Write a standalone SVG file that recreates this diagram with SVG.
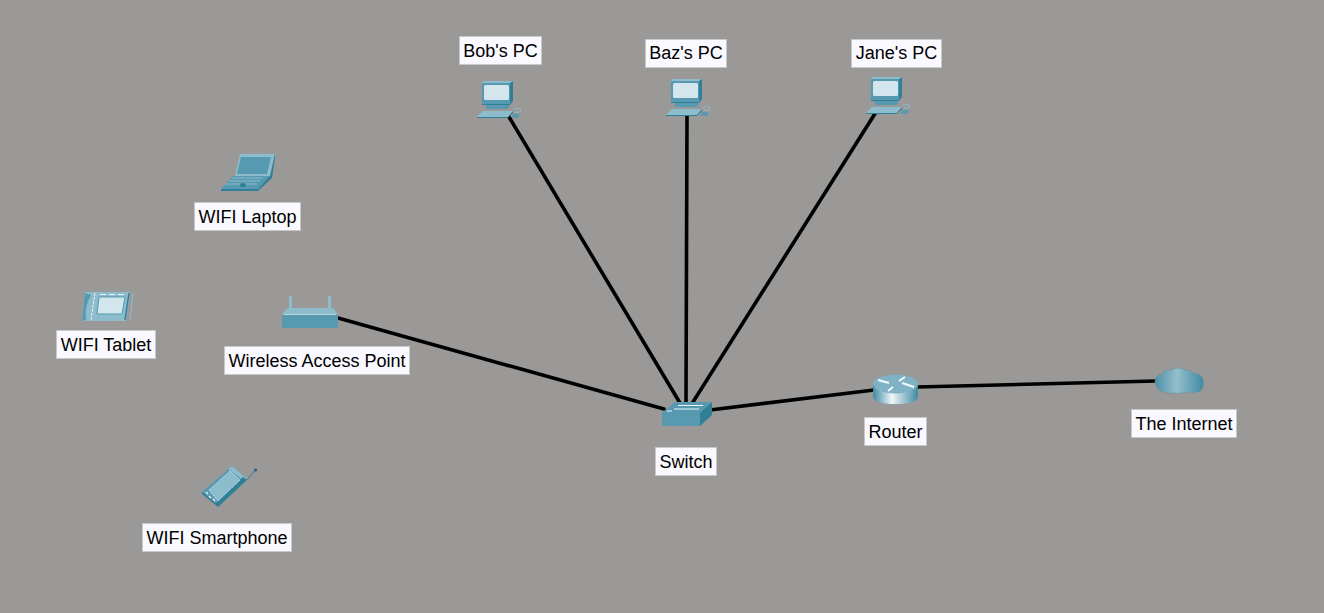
<svg xmlns="http://www.w3.org/2000/svg" width="1324" height="613" viewBox="0 0 1324 613">
<style>
.lbl rect{fill:#f9f9ff;stroke:#c8c8c8;stroke-width:1}
.lbl text{font-family:"Liberation Sans",Arial,sans-serif;font-size:18px;fill:#000;text-anchor:middle}
.cable{stroke:#000;stroke-width:3.6;fill:none;stroke-linecap:round}
.d{fill:#2f7f97}.m{fill:#5699b1}.l{fill:#8dbccc}.s{fill:#d3e6ee}
</style>
<defs>
<linearGradient id="rt" x1="0" x2="1" y1="0" y2="0"><stop offset="0" stop-color="#3f8aa2"/><stop offset=".42" stop-color="#eef6f8"/><stop offset="1" stop-color="#3f8aa2"/></linearGradient>
<linearGradient id="cl" x1="0" x2="1" y1="0" y2="0"><stop offset="0" stop-color="#4d90a8"/><stop offset=".45" stop-color="#94bfcd"/><stop offset="1" stop-color="#3f8aa2"/></linearGradient>
<g id="pc">
<path class="d" d="M6 0H36V20L33 24H5Z"/>
<path class="l" d="M6 0H36L33 2H5Z"/>
<path class="m" d="M5 2H33V23H5Z"/>
<rect class="s" x="7" y="4" width="25" height="15" rx="1.500"/>
<path class="m" d="M9 24H32V27L30 28H9Z"/>
<path class="l" d="M6 30H36L31 36H0Z"/>
<path class="d" d="M31 36L36 30V32L31 37H0V36Z"/>
<path d="M36 29Q43 25 44 30Q43 32 38 31" fill="none" stroke="#8dbccc" stroke-width="1"/>
<path class="m" d="M36 33H43L41 37H35Z"/>
</g>
</defs>
<rect width="1324" height="613" fill="#9b9997"/>
<g id="connectors">
<line class="cable" x1="509" y1="117" x2="680" y2="403"/>
<line class="cable" x1="687" y1="116" x2="686" y2="402"/>
<line class="cable" x1="876" y1="112" x2="693" y2="402"/>
<line class="cable" x1="338" y1="318" x2="664" y2="409"/>
<line class="cable" x1="710" y1="410" x2="874" y2="390"/>
<line class="cable" x1="917" y1="387" x2="1156" y2="381"/>
</g>
<g id="bob-pc"><use href="#pc" x="477" y="81"/><g class="lbl"><rect x="459.500" y="36.500" width="82" height="28"/><text x="500.500" y="57">Bob's PC</text></g></g>
<g id="baz-pc"><use href="#pc" x="666" y="79"/><g class="lbl"><rect x="645.500" y="39.500" width="81" height="28"/><text x="686" y="59">Baz's PC</text></g></g>
<g id="jane-pc"><use href="#pc" x="866" y="77"/><g class="lbl"><rect x="851.500" y="39.500" width="90" height="28"/><text x="896.500" y="59">Jane's PC</text></g></g>
<g id="wifi-laptop">
<path class="l" d="M240 154H275L270 176H235Z"/>
<path class="m" d="M241 157H271L267 174H237Z"/>
<path class="m" d="M233 176H270L258 189H221Z"/>
<path d="M232 178H263M229 181H260M226 184H257" stroke="#8dbccc" stroke-width="1"/>
<ellipse cx="243" cy="185" rx="3" ry="2" fill="#2f7f97"/>
<path class="d" d="M221 189H258V191H221ZM258 189L270 176L275 154V158L272 178L258 191Z"/>
<g class="lbl"><rect x="194.500" y="202.500" width="106" height="28"/><text x="247.500" y="223">WIFI Laptop</text></g>
</g>
<g id="wifi-tablet">
<path class="l" d="M85 292H130L126 321H82Z"/>
<path class="m" d="M91 295Q84 307 86 320L82 321L85 293Z"/>
<path class="s" d="M99 297H125L122 314H97Z" stroke="#5699b1"/>
<path d="M95 293L91 320" stroke="#e8f4f8" stroke-width="1" stroke-dasharray="3 1"/>
<path d="M100 294.500H126" stroke="#e8f4f8" stroke-width="1" stroke-dasharray="6 3"/>
<path d="M129 293L125 320" stroke="#2f7f97" stroke-width="1.500"/>
<path d="M133 293L130 319" stroke="#8dbccc" stroke-width="1"/>
<g class="lbl"><rect x="56.500" y="330.500" width="99" height="28"/><text x="106" y="351">WIFI Tablet</text></g>
</g>
<g id="wireless-access-point">
<path class="l" d="M289 296H292V308H289ZM328 296H331V308H328Z"/>
<path class="l" d="M288 308H333L338 314H282Z"/>
<rect class="m" x="282" y="315" width="56" height="13"/>
<path d="M284 314.500H336" stroke="#b8d6e0" stroke-width="1"/>
<g class="lbl"><rect x="224.500" y="346.500" width="185" height="28"/><text x="317" y="367">Wireless Access Point</text></g>
</g>
<g id="wifi-smartphone">
<path class="m" d="M202 492L232 466L243 476L217 503Z"/>
<path class="l" d="M228 469L232 466L247 479L243 480Z"/>
<path class="d" d="M218 507L247 480L243 477L216 503L202 492V494Z"/>
<path class="l" d="M209 490L230 471L240 480L218 501Z" stroke="#d3e6ee" stroke-width=".8" stroke-dasharray="2 1"/>
<path d="M206 492L208 494M209 496L211 498M213 499L215 501" stroke="#eef6f8" stroke-width="1.200"/>
<path d="M247 480L255 470" stroke="#2f7f97" stroke-width="1"/>
<circle cx="255.500" cy="470" r="1.500" fill="#1f5f77"/>
<g class="lbl"><rect x="142.500" y="523.500" width="149" height="28"/><text x="217" y="544">WIFI Smartphone</text></g>
</g>
<g id="switch">
<path class="m" d="M662 413L675 402H712L700 413Z" fill="#6fa8bb"/>
<path class="d" d="M700 413L712 402V415L700 426Z"/>
<rect class="m" x="662" y="413" width="38" height="13"/>
<path d="M678 405.500H703M674 409H699M667 411H672" stroke="#eef6f8" stroke-width="1.200"/>
<g class="lbl"><rect x="655.500" y="447.500" width="61" height="28"/><text x="686" y="468">Switch</text></g>
</g>
<g id="router">
<path fill="url(#rt)" d="M873 384V396Q873 404 895.500 404Q918 404 918 396V384Z"/>
<ellipse cx="895.500" cy="384" rx="22.500" ry="9.500" fill="#7fb2c4"/>
<path d="M878 380L889 383M905 377L899 381M902 383L914 387M893 387L888 391" stroke="#f4fbfd" stroke-width="2"/>
<g class="lbl"><rect x="864.500" y="417.500" width="62" height="28"/><text x="895.500" y="438">Router</text></g>
</g>
<g id="the-internet">
<path fill="url(#cl)" stroke="#6e8f9b" stroke-width=".6" d="M1155 382Q1155 375 1162 374Q1164 369 1172 370Q1178 366 1185 370Q1191 369 1194 374Q1198 373 1201 376Q1205 380 1203 387Q1202 392 1196 392Q1190 394 1185 392Q1180 395 1175 393Q1169 394 1164 392Q1156 390 1155 382Z"/>
<g class="lbl"><rect x="1131.500" y="409.500" width="105" height="28"/><text x="1184" y="430">The Internet</text></g>
</g>
</svg>
